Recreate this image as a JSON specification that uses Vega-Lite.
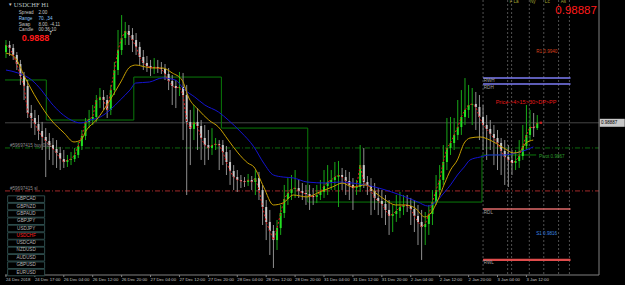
{
"$schema": "https://vega.github.io/schema/vega-lite/v6.json",
"width": 604, "height": 275,
"autosize": "none",
"padding": {"left": 0, "top": 0, "right": 21, "bottom": 10},
"background": "#000000",
"config": {"view": {"stroke": null}, "font": "Liberation Sans"},
"datasets": {
"bars": [
{"i":0,"o":0.99371,"h":0.99453,"l":0.99330,"c":0.99419},
{"i":1,"o":0.99419,"h":0.99447,"l":0.99344,"c":0.99399},
{"i":2,"o":0.99399,"h":0.99426,"l":0.99317,"c":0.99351},
{"i":3,"o":0.99351,"h":0.99371,"l":0.99248,"c":0.99289},
{"i":4,"o":0.99289,"h":0.99317,"l":0.99146,"c":0.99207},
{"i":5,"o":0.99207,"h":0.99235,"l":0.99043,"c":0.99139},
{"i":6,"o":0.99139,"h":0.99180,"l":0.98920,"c":0.98954},
{"i":7,"o":0.98954,"h":0.99009,"l":0.98851,"c":0.98920},
{"i":8,"o":0.98920,"h":0.98975,"l":0.98804,"c":0.98879},
{"i":9,"o":0.98879,"h":0.98940,"l":0.98769,"c":0.98831},
{"i":10,"o":0.98831,"h":0.98893,"l":0.98701,"c":0.98790},
{"i":11,"o":0.98790,"h":0.98851,"l":0.98516,"c":0.98763},
{"i":12,"o":0.98763,"h":0.98817,"l":0.98633,"c":0.98735},
{"i":13,"o":0.98735,"h":0.98783,"l":0.98598,"c":0.98708},
{"i":14,"o":0.98708,"h":0.98769,"l":0.98578,"c":0.98680},
{"i":15,"o":0.98680,"h":0.98722,"l":0.98564,"c":0.98639},
{"i":16,"o":0.98639,"h":0.98701,"l":0.98578,"c":0.98619},
{"i":17,"o":0.98619,"h":0.98667,"l":0.98585,"c":0.98633},
{"i":18,"o":0.98633,"h":0.98687,"l":0.98598,"c":0.98639},
{"i":19,"o":0.98639,"h":0.98715,"l":0.98619,"c":0.98667},
{"i":20,"o":0.98667,"h":0.98756,"l":0.98646,"c":0.98728},
{"i":21,"o":0.98728,"h":0.98838,"l":0.98701,"c":0.98797},
{"i":22,"o":0.98797,"h":0.98920,"l":0.98769,"c":0.98893},
{"i":23,"o":0.98893,"h":0.98975,"l":0.98851,"c":0.98913},
{"i":24,"o":0.98913,"h":0.99009,"l":0.98872,"c":0.98927},
{"i":25,"o":0.98927,"h":0.99077,"l":0.98893,"c":0.99043},
{"i":26,"o":0.99043,"h":0.99125,"l":0.98988,"c":0.99064},
{"i":27,"o":0.99064,"h":0.99111,"l":0.98975,"c":0.99043},
{"i":28,"o":0.99043,"h":0.99077,"l":0.98920,"c":0.98975},
{"i":29,"o":0.98975,"h":0.99146,"l":0.98940,"c":0.99111},
{"i":30,"o":0.99111,"h":0.99303,"l":0.99077,"c":0.99248},
{"i":31,"o":0.99248,"h":0.99522,"l":0.99214,"c":0.99385},
{"i":32,"o":0.99385,"h":0.99624,"l":0.99351,"c":0.99467},
{"i":33,"o":0.99467,"h":0.99577,"l":0.99419,"c":0.99515},
{"i":34,"o":0.99515,"h":0.99556,"l":0.99419,"c":0.99488},
{"i":35,"o":0.99488,"h":0.99535,"l":0.99371,"c":0.99453},
{"i":36,"o":0.99453,"h":0.99501,"l":0.99351,"c":0.99406},
{"i":37,"o":0.99406,"h":0.99440,"l":0.99282,"c":0.99337},
{"i":38,"o":0.99337,"h":0.99385,"l":0.99248,"c":0.99296},
{"i":39,"o":0.99296,"h":0.99344,"l":0.99235,"c":0.99276},
{"i":40,"o":0.99276,"h":0.99317,"l":0.99207,"c":0.99262},
{"i":41,"o":0.99262,"h":0.99330,"l":0.99221,"c":0.99269},
{"i":42,"o":0.99269,"h":0.99317,"l":0.99228,"c":0.99262},
{"i":43,"o":0.99262,"h":0.99303,"l":0.99221,"c":0.99255},
{"i":44,"o":0.99255,"h":0.99289,"l":0.99180,"c":0.99221},
{"i":45,"o":0.99221,"h":0.99262,"l":0.99111,"c":0.99173},
{"i":46,"o":0.99173,"h":0.99214,"l":0.99009,"c":0.99139},
{"i":47,"o":0.99139,"h":0.99180,"l":0.98988,"c":0.99125},
{"i":48,"o":0.99125,"h":0.99235,"l":0.99070,"c":0.99132},
{"i":49,"o":0.99132,"h":0.99228,"l":0.98769,"c":0.99077},
{"i":50,"o":0.99077,"h":0.99146,"l":0.98393,"c":0.98893},
{"i":51,"o":0.98893,"h":0.98975,"l":0.98598,"c":0.98845},
{"i":52,"o":0.98845,"h":0.99009,"l":0.98769,"c":0.98893},
{"i":53,"o":0.98893,"h":0.98988,"l":0.98701,"c":0.98865},
{"i":54,"o":0.98865,"h":0.98906,"l":0.98633,"c":0.98783},
{"i":55,"o":0.98783,"h":0.98872,"l":0.98598,"c":0.98735},
{"i":56,"o":0.98735,"h":0.98838,"l":0.98633,"c":0.98715},
{"i":57,"o":0.98715,"h":0.98851,"l":0.98667,"c":0.98735},
{"i":58,"o":0.98735,"h":0.98783,"l":0.98701,"c":0.98742},
{"i":59,"o":0.98742,"h":0.98769,"l":0.98564,"c":0.98735},
{"i":60,"o":0.98735,"h":0.98769,"l":0.98598,"c":0.98687},
{"i":61,"o":0.98687,"h":0.98728,"l":0.98530,"c":0.98619},
{"i":62,"o":0.98619,"h":0.98701,"l":0.98462,"c":0.98557},
{"i":63,"o":0.98557,"h":0.98598,"l":0.98427,"c":0.98516},
{"i":64,"o":0.98516,"h":0.98564,"l":0.98414,"c":0.98496},
{"i":65,"o":0.98496,"h":0.98530,"l":0.98441,"c":0.98489},
{"i":66,"o":0.98489,"h":0.98516,"l":0.98448,"c":0.98482},
{"i":67,"o":0.98482,"h":0.98537,"l":0.98455,"c":0.98496},
{"i":68,"o":0.98496,"h":0.98523,"l":0.98427,"c":0.98482},
{"i":69,"o":0.98482,"h":0.98564,"l":0.98393,"c":0.98509},
{"i":70,"o":0.98509,"h":0.98551,"l":0.98359,"c":0.98427},
{"i":71,"o":0.98427,"h":0.98462,"l":0.98188,"c":0.98311},
{"i":72,"o":0.98311,"h":0.98359,"l":0.98085,"c":0.98209},
{"i":73,"o":0.98209,"h":0.98291,"l":0.97983,"c":0.98147},
{"i":74,"o":0.98147,"h":0.98188,"l":0.97894,"c":0.98085},
{"i":75,"o":0.98085,"h":0.98222,"l":0.98017,"c":0.98167},
{"i":76,"o":0.98167,"h":0.98325,"l":0.98120,"c":0.98270},
{"i":77,"o":0.98270,"h":0.98462,"l":0.98236,"c":0.98366},
{"i":78,"o":0.98366,"h":0.98509,"l":0.98325,"c":0.98407},
{"i":79,"o":0.98407,"h":0.98530,"l":0.98359,"c":0.98434},
{"i":80,"o":0.98434,"h":0.98564,"l":0.98373,"c":0.98441},
{"i":81,"o":0.98441,"h":0.98496,"l":0.98373,"c":0.98421},
{"i":82,"o":0.98421,"h":0.98475,"l":0.98359,"c":0.98407},
{"i":83,"o":0.98407,"h":0.98462,"l":0.98325,"c":0.98400},
{"i":84,"o":0.98400,"h":0.98462,"l":0.98291,"c":0.98386},
{"i":85,"o":0.98386,"h":0.98441,"l":0.98325,"c":0.98380},
{"i":86,"o":0.98380,"h":0.98462,"l":0.98338,"c":0.98393},
{"i":87,"o":0.98393,"h":0.98496,"l":0.98359,"c":0.98414},
{"i":88,"o":0.98414,"h":0.98564,"l":0.98373,"c":0.98455},
{"i":89,"o":0.98455,"h":0.98598,"l":0.98393,"c":0.98482},
{"i":90,"o":0.98482,"h":0.98564,"l":0.98427,"c":0.98496},
{"i":91,"o":0.98496,"h":0.98619,"l":0.98427,"c":0.98516},
{"i":92,"o":0.98516,"h":0.98626,"l":0.98311,"c":0.98530},
{"i":93,"o":0.98530,"h":0.98578,"l":0.98427,"c":0.98516},
{"i":94,"o":0.98516,"h":0.98564,"l":0.98393,"c":0.98489},
{"i":95,"o":0.98489,"h":0.98551,"l":0.98359,"c":0.98462},
{"i":96,"o":0.98462,"h":0.98509,"l":0.98291,"c":0.98441},
{"i":97,"o":0.98441,"h":0.98496,"l":0.98393,"c":0.98448},
{"i":98,"o":0.98448,"h":0.98735,"l":0.98414,"c":0.98598},
{"i":99,"o":0.98598,"h":0.98715,"l":0.98441,"c":0.98482},
{"i":100,"o":0.98482,"h":0.98523,"l":0.98393,"c":0.98455},
{"i":101,"o":0.98455,"h":0.98509,"l":0.98256,"c":0.98421},
{"i":102,"o":0.98421,"h":0.98475,"l":0.98291,"c":0.98373},
{"i":103,"o":0.98373,"h":0.98441,"l":0.98256,"c":0.98352},
{"i":104,"o":0.98352,"h":0.98427,"l":0.98236,"c":0.98332},
{"i":105,"o":0.98332,"h":0.98393,"l":0.98188,"c":0.98291},
{"i":106,"o":0.98291,"h":0.98359,"l":0.98120,"c":0.98250},
{"i":107,"o":0.98250,"h":0.98325,"l":0.98140,"c":0.98263},
{"i":108,"o":0.98263,"h":0.98393,"l":0.98209,"c":0.98284},
{"i":109,"o":0.98284,"h":0.98414,"l":0.98236,"c":0.98311},
{"i":110,"o":0.98311,"h":0.98393,"l":0.98256,"c":0.98325},
{"i":111,"o":0.98325,"h":0.98393,"l":0.98277,"c":0.98318},
{"i":112,"o":0.98318,"h":0.98373,"l":0.98188,"c":0.98297},
{"i":113,"o":0.98297,"h":0.98359,"l":0.98140,"c":0.98250},
{"i":114,"o":0.98250,"h":0.98325,"l":0.98051,"c":0.98209},
{"i":115,"o":0.98209,"h":0.98291,"l":0.97949,"c":0.98174},
{"i":116,"o":0.98174,"h":0.98277,"l":0.98051,"c":0.98195},
{"i":117,"o":0.98195,"h":0.98325,"l":0.98120,"c":0.98263},
{"i":118,"o":0.98263,"h":0.98427,"l":0.98188,"c":0.98345},
{"i":119,"o":0.98345,"h":0.98530,"l":0.98325,"c":0.98427},
{"i":120,"o":0.98427,"h":0.98598,"l":0.98393,"c":0.98496},
{"i":121,"o":0.98496,"h":0.98735,"l":0.98462,"c":0.98619},
{"i":122,"o":0.98619,"h":0.98920,"l":0.98564,"c":0.98715},
{"i":123,"o":0.98715,"h":0.98927,"l":0.98667,"c":0.98749},
{"i":124,"o":0.98749,"h":0.98920,"l":0.98701,"c":0.98804},
{"i":125,"o":0.98804,"h":0.99043,"l":0.98769,"c":0.98858},
{"i":126,"o":0.98858,"h":0.99111,"l":0.98804,"c":0.98927},
{"i":127,"o":0.98927,"h":0.99193,"l":0.98872,"c":0.98975},
{"i":128,"o":0.98975,"h":0.99146,"l":0.98920,"c":0.99009},
{"i":129,"o":0.99009,"h":0.99125,"l":0.98872,"c":0.99016},
{"i":130,"o":0.99016,"h":0.99098,"l":0.98838,"c":0.98995},
{"i":131,"o":0.98995,"h":0.99077,"l":0.98769,"c":0.98927},
{"i":132,"o":0.98927,"h":0.99009,"l":0.98701,"c":0.98872},
{"i":133,"o":0.98872,"h":0.98940,"l":0.98633,"c":0.98845},
{"i":134,"o":0.98845,"h":0.98906,"l":0.98701,"c":0.98810},
{"i":135,"o":0.98810,"h":0.98872,"l":0.98598,"c":0.98783},
{"i":136,"o":0.98783,"h":0.98838,"l":0.98564,"c":0.98749},
{"i":137,"o":0.98749,"h":0.98783,"l":0.98530,"c":0.98694},
{"i":138,"o":0.98694,"h":0.98769,"l":0.98462,"c":0.98653},
{"i":139,"o":0.98653,"h":0.98735,"l":0.98448,"c":0.98633},
{"i":140,"o":0.98633,"h":0.98701,"l":0.98530,"c":0.98612},
{"i":141,"o":0.98612,"h":0.98701,"l":0.98564,"c":0.98626},
{"i":142,"o":0.98626,"h":0.98769,"l":0.98578,"c":0.98660},
{"i":143,"o":0.98660,"h":0.98872,"l":0.98633,"c":0.98728},
{"i":144,"o":0.98728,"h":0.99009,"l":0.98701,"c":0.98804},
{"i":145,"o":0.98804,"h":0.98975,"l":0.98769,"c":0.98858},
{"i":146,"o":0.98858,"h":0.98954,"l":0.98790,"c":0.98851},
{"i":147,"o":0.98851,"h":0.98940,"l":0.98838,"c":0.98887}
],
"fast": [
{"i":0,"p":0.99364},{"i":2.4,"p":0.99337},{"i":5.2,"p":0.99200},{"i":8.7,"p":0.99043},{"i":12.5,"p":0.98906},{"i":16.1,"p":0.98817},{"i":18.8,"p":0.98756},{"i":20.7,"p":0.98769},{"i":22.3,"p":0.98838},{"i":25.0,"p":0.98906},{"i":28.8,"p":0.99043},{"i":31.6,"p":0.99159},{"i":34.3,"p":0.99269},{"i":35.9,"p":0.99282},{"i":38.6,"p":0.99269},{"i":40.5,"p":0.99262},{"i":43.3,"p":0.99262},{"i":46.0,"p":0.99228},{"i":48.7,"p":0.99180},{"i":50.6,"p":0.99057},{"i":53.3,"p":0.98975},{"i":56.1,"p":0.98906},{"i":58.8,"p":0.98858},{"i":61.5,"p":0.98769},{"i":64.2,"p":0.98681},{"i":66.9,"p":0.98612},{"i":68.6,"p":0.98585},{"i":71.3,"p":0.98448},{"i":74.0,"p":0.98325},{"i":76.7,"p":0.98339},{"i":79.5,"p":0.98393},{"i":83.3,"p":0.98380},{"i":86.8,"p":0.98414},{"i":90.3,"p":0.98448},{"i":93.1,"p":0.98475},{"i":95.8,"p":0.98448},{"i":99.6,"p":0.98462},{"i":102.3,"p":0.98407},{"i":105.0,"p":0.98359},{"i":107.8,"p":0.98325},{"i":110.5,"p":0.98325},{"i":113.2,"p":0.98304},{"i":115.9,"p":0.98243},{"i":117.6,"p":0.98270},{"i":119.5,"p":0.98359},{"i":121.4,"p":0.98475},{"i":123.0,"p":0.98564},{"i":124.9,"p":0.98633},{"i":126.8,"p":0.98749},{"i":128.4,"p":0.98783},{"i":131.2,"p":0.98790},{"i":133.9,"p":0.98769},{"i":137.7,"p":0.98715},{"i":140.4,"p":0.98681},{"i":142.0,"p":0.98687},{"i":143.9,"p":0.98749},{"i":145.9,"p":0.98769}
],
"slow": [
{"i":0,"p":0.99248},{"i":3.3,"p":0.99228},{"i":7.1,"p":0.99180},{"i":9.8,"p":0.99111},{"i":12.5,"p":0.99023},{"i":15.2,"p":0.98954},{"i":18.0,"p":0.98906},{"i":20.7,"p":0.98886},{"i":23.4,"p":0.98906},{"i":26.1,"p":0.98927},{"i":28.8,"p":0.98975},{"i":31.6,"p":0.99043},{"i":34.3,"p":0.99111},{"i":35.9,"p":0.99159},{"i":39.7,"p":0.99166},{"i":43.3,"p":0.99194},{"i":46.8,"p":0.99180},{"i":49.5,"p":0.99111},{"i":52.2,"p":0.99064},{"i":55.0,"p":0.99009},{"i":58.8,"p":0.98961},{"i":61.5,"p":0.98906},{"i":65.0,"p":0.98824},{"i":68.6,"p":0.98722},{"i":71.3,"p":0.98612},{"i":74.0,"p":0.98530},{"i":76.7,"p":0.98516},{"i":79.5,"p":0.98510},{"i":83.3,"p":0.98482},{"i":88.7,"p":0.98475},{"i":92.2,"p":0.98482},{"i":95.8,"p":0.98475},{"i":99.6,"p":0.98462},{"i":103.1,"p":0.98441},{"i":106.7,"p":0.98414},{"i":110.5,"p":0.98380},{"i":114.0,"p":0.98345},{"i":116.7,"p":0.98318},{"i":118.6,"p":0.98339},{"i":121.4,"p":0.98414},{"i":123.0,"p":0.98462},{"i":124.9,"p":0.98530},{"i":126.8,"p":0.98585},{"i":128.4,"p":0.98633},{"i":131.2,"p":0.98653},{"i":133.9,"p":0.98667},{"i":137.7,"p":0.98667},{"i":141.2,"p":0.98681},{"i":143.9,"p":0.98701},{"i":145.9,"p":0.98722}
],
"pivots": [
{"i":-0.27,"p":0.99180},{"i":11.16,"p":0.98906},{"i":35.37,"p":0.99200},{"i":59.6,"p":0.98851},{"i":83.5,"p":0.98345},{"i":131.7,"p":0.98667},{"i":146.7,"p":0.98667}
],
"levels": [
{"name":"cur","p":0.98887,"i0":-0.27,"i1":164.08},
{"name":"entry","p":0.98715,"i0":-0.27,"i1":164.08},
{"name":"sl","p":0.98421,"i0":-0.27,"i1":164.08},
{"name":"RWH","p":0.99193,"i0":132.0,"i1":156.2},
{"name":"RDH","p":0.99152,"i0":132.0,"i1":156.2},
{"name":"RDL","p":0.98297,"i0":132.0,"i1":156.2},
{"name":"RWL","p":0.97949,"i0":132.0,"i1":156.2}
],
"sessions": [{"i":132.0},{"i":138.8},{"i":139.9},{"i":144.8},{"i":148.8},{"i":152.9},{"i":155.9}],
"times": [
{"i":0,"t":"24 Dec 2018"},{"i":8,"t":"24 Dec 17:00"},{"i":16,"t":"26 Dec 04:00"},{"i":24,"t":"26 Dec 12:00"},{"i":32,"t":"26 Dec 20:00"},
{"i":40,"t":"27 Dec 04:00"},{"i":48,"t":"27 Dec 12:00"},{"i":56,"t":"27 Dec 20:00"},{"i":64,"t":"28 Dec 04:00"},{"i":72,"t":"28 Dec 12:00"},
{"i":80,"t":"28 Dec 20:00"},{"i":88,"t":"31 Dec 04:00"},{"i":96,"t":"31 Dec 12:00"},{"i":104,"t":"31 Dec 20:00"},{"i":112,"t":"2 Jan 04:00"},
{"i":120,"t":"2 Jan 12:00"},{"i":128,"t":"2 Jan 20:00"},{"i":136,"t":"3 Jan 04:00"},{"i":144,"t":"3 Jan 12:00"}
],
"labels": [
{"i":0.54,"p":0.99693,"t":"▼","role":"info"},
{"i":2.18,"p":0.99693,"t":"USDCHF  H1","role":"title"},
{"i":3.54,"p":0.99638,"t":"Spread","role":"info"},
{"i":8.98,"p":0.99638,"t":"2.00","role":"info"},
{"i":3.54,"p":0.99597,"t":"Range","role":"range"},
{"i":8.98,"p":0.99597,"t":"70.  ,34","role":"range"},
{"i":3.54,"p":0.99556,"t":"Swap","role":"info"},
{"i":8.98,"p":0.99556,"t":"8.00.  -4.11","role":"info"},
{"i":3.54,"p":0.99522,"t":"Candle","role":"info"},
{"i":8.98,"p":0.99522,"t":"00:36:10","role":"info"},
{"i":4.35,"p":0.99467,"t":"0.9888","role":"big"},
{"i":11.97,"p":0.99494,"t":"7","role":"sup"},
{"i":163.5,"p":0.99652,"t":"0.98887","role":"top"},
{"i":1.09,"p":0.98728,"t":"#59697415 buy 0.01","role":"order"},
{"i":1.09,"p":0.98434,"t":"#59697415 sl","role":"order"},
{"i":146.7,"p":0.99371,"t":"R1 0.9940","role":"r1"},
{"i":132.2,"p":0.99173,"t":"RWH","role":"lvl"},
{"i":132.2,"p":0.99125,"t":"RDH","role":"lvl"},
{"i":132.2,"p":0.98270,"t":"RDL","role":"lvl"},
{"i":132.2,"p":0.97928,"t":"RWL","role":"lvl"},
{"i":135.5,"p":0.99029,"t":"Price->4>15>30>DP>PP","role":"ppath"},
{"i":147.5,"p":0.98653,"t":"Pivot 0.9867","role":"pivot"},
{"i":146.7,"p":0.98126,"t":"S1 0.9816","role":"s1"},
{"i":139.3,"p":0.99710,"t":"F","role":"sess"},
{"i":140.4,"p":0.99710,"t":"La","role":"sess"},
{"i":145.0,"p":0.99710,"t":"Ny","role":"sess"},
{"i":149.1,"p":0.99710,"t":"Lc","role":"sess"},
{"i":153.5,"p":0.99710,"t":"As","role":"sess"}
],
"now": [{"i":148.0,"p":0.98887,"t":"0.98887"}],
"syms": [{"s":"GBPCAD","p":0.98365},{"s":"GBPNZD","p":0.98314},{"s":"GBPAUD","p":0.98264},{"s":"GBPJPY","p":0.98214},{"s":"USDJPY","p":0.98164},{"s":"USDCHF","p":0.98113},{"s":"USDCAD","p":0.98064},{"s":"NZDUSD","p":0.98014},{"s":"AUDUSD","p":0.97964},{"s":"GBPUSD","p":0.97913},{"s":"EURUSD","p":0.97863}]
},
"layer": [
{"data": {"name": "sessions"}, "mark": {"type": "rule", "color": "#505050", "strokeDash": [2, 2], "strokeWidth": 1},
 "encoding": {"x": {"field": "i", "type": "quantitative", "scale": {"domain": [-0.27, 164.08], "nice": false, "zero": false}, "axis": null}}},
{"data": {"name": "levels"}, "transform": [{"filter": "datum.name == 'cur'"}], "mark": {"type": "rule", "color": "#454545", "strokeWidth": 1},
 "encoding": {"x": {"field": "i0", "type": "quantitative", "axis": null}, "x2": {"field": "i1"},
   "y": {"field": "p", "type": "quantitative", "scale": {"domain": [0.97846, 0.99727], "nice": false, "zero": false},
     "axis": {"orient": "right", "title": null, "values": [0.99645,0.9954,0.99435,0.9933,0.99225,0.9912,0.99015,0.98805,0.987,0.98595,0.9849,0.98385,0.9828,0.98175,0.9807,0.97965,0.9786],
       "format": ".5f", "labelColor": "#C0C0C0", "labelFontSize": 4.5, "labelFont": "Liberation Sans", "tickSize": 2, "tickColor": "#808080",
       "domainColor": "#808080", "labelPadding": 1, "labelOverlap": false, "labelFlush": false, "grid": false}}}},
{"data": {"name": "levels"}, "transform": [{"filter": "datum.name == 'entry'"}], "mark": {"type": "rule", "color": "#0C6A0C", "strokeWidth": 1, "strokeDash": [5, 2, 1, 2]},
 "encoding": {"x": {"field": "i0", "type": "quantitative", "axis": null}, "x2": {"field": "i1"}, "y": {"field": "p", "type": "quantitative", "axis": null}}},
{"data": {"name": "levels"}, "transform": [{"filter": "datum.name == 'sl'"}], "mark": {"type": "rule", "color": "#A02828", "strokeWidth": 1, "strokeDash": [5, 2, 1, 2]},
 "encoding": {"x": {"field": "i0", "type": "quantitative", "axis": null}, "x2": {"field": "i1"}, "y": {"field": "p", "type": "quantitative", "axis": null}}},
{"data": {"name": "levels"}, "transform": [{"filter": "datum.name == 'RWH' || datum.name == 'RDH'"}], "mark": {"type": "rule", "color": "#7C7CF4", "strokeWidth": 1.5},
 "encoding": {"x": {"field": "i0", "type": "quantitative", "axis": null}, "x2": {"field": "i1"}, "y": {"field": "p", "type": "quantitative", "axis": null}}},
{"data": {"name": "levels"}, "transform": [{"filter": "datum.name == 'RDL'"}], "mark": {"type": "rule", "color": "#E06A6A", "strokeWidth": 1.5},
 "encoding": {"x": {"field": "i0", "type": "quantitative", "axis": null}, "x2": {"field": "i1"}, "y": {"field": "p", "type": "quantitative", "axis": null}}},
{"data": {"name": "levels"}, "transform": [{"filter": "datum.name == 'RWL'"}], "mark": {"type": "rule", "color": "#E04C4C", "strokeWidth": 2.2},
 "encoding": {"x": {"field": "i0", "type": "quantitative", "axis": null}, "x2": {"field": "i1"}, "y": {"field": "p", "type": "quantitative", "axis": null}}},
{"data": {"name": "pivots"}, "mark": {"type": "line", "color": "#0A7A0A", "strokeWidth": 1, "interpolate": "step-after"},
 "encoding": {"x": {"field": "i", "type": "quantitative", "axis": null}, "y": {"field": "p", "type": "quantitative", "axis": null}}},
{"data": {"name": "bars"}, "mark": {"type": "rule", "strokeWidth": 1},
 "encoding": {"x": {"field": "i", "type": "quantitative", "axis": null},
   "y": {"field": "l", "type": "quantitative", "axis": null}, "y2": {"field": "h"},
   "color": {"condition": {"test": "datum.c >= datum.o", "value": "#18A818"}, "value": "#8E8E8E"}}},
{"data": {"name": "bars"}, "mark": {"type": "bar", "size": 2},
 "encoding": {"x": {"field": "i", "type": "quantitative", "axis": null}, "y": {"field": "o", "type": "quantitative", "axis": null}, "y2": {"field": "c"},
   "color": {"condition": {"test": "datum.c >= datum.o", "value": "#22E022"}, "value": "#C8C8C8"}}},
{"data": {"name": "slow"}, "mark": {"type": "line", "color": "#1414D2", "strokeWidth": 1, "interpolate": "monotone"},
 "encoding": {"x": {"field": "i", "type": "quantitative", "axis": null}, "y": {"field": "p", "type": "quantitative", "axis": null}}},
{"data": {"name": "fast"}, "mark": {"type": "line", "color": "#C8A000", "strokeWidth": 1, "interpolate": "monotone"},
 "encoding": {"x": {"field": "i", "type": "quantitative", "axis": null}, "y": {"field": "p", "type": "quantitative", "axis": null}}},
{"data": {"name": "bars"}, "mark": {"type": "line", "color": "#E01818", "strokeWidth": 1, "strokeDash": [2, 2]},
 "encoding": {"x": {"field": "i", "type": "quantitative", "axis": null}, "y": {"field": "c", "type": "quantitative", "axis": null}}},
{"data": {"name": "now"}, "mark": {"type": "point", "shape": "square", "filled": true, "size": 6, "color": "#FF2020"},
 "encoding": {"x": {"field": "i", "type": "quantitative", "axis": null}, "y": {"field": "p", "type": "quantitative", "axis": null}}},
{"data": {"name": "now"}, "mark": {"type": "rule", "color": "#808080", "strokeWidth": 1},
 "encoding": {"x": {"datum": 164.08, "axis": null}}},
{"data": {"name": "now"}, "mark": {"type": "rule", "color": "#808080", "strokeWidth": 1},
 "encoding": {"x": {"datum": -0.27, "axis": null}, "x2": {"datum": 164.08}, "y": {"datum": 0.97846, "axis": null}}},
{"data": {"name": "times"}, "mark": {"type": "rule", "color": "#808080", "strokeWidth": 1},
 "encoding": {"x": {"field": "i", "type": "quantitative", "axis": null}, "y": {"datum": 0.97846, "axis": null}, "y2": {"datum": 0.97832}}},
{"data": {"name": "times"}, "mark": {"type": "text", "align": "left", "baseline": "middle", "fontSize": 4.3, "color": "#C0C0C0"},
 "encoding": {"x": {"field": "i", "type": "quantitative", "axis": null}, "y": {"datum": 0.97812, "axis": null}, "text": {"field": "t"}}},
{"data": {"name": "now"}, "mark": {"type": "rule", "color": "#C8C8C8", "strokeWidth": 8},
 "encoding": {"x": {"datum": 164.3, "axis": null}, "x2": {"datum": 171.2}, "y": {"field": "p", "type": "quantitative", "axis": null}}},
{"data": {"name": "now"}, "mark": {"type": "text", "align": "left", "baseline": "middle", "fontSize": 4.5, "color": "#000000"},
 "encoding": {"x": {"datum": 164.6, "axis": null}, "y": {"field": "p", "type": "quantitative", "axis": null}, "text": {"field": "t"}}},
{"data": {"name": "syms"}, "mark": {"type": "point", "shape": "M-1,-0.178L1,-0.178L1,0.178L-1,0.178Z", "size": 1369, "filled": true, "fill": "#000000", "fillOpacity": 1, "stroke": "#2E4C4C", "strokeWidth": 1, "opacity": 1},
 "encoding": {"x": {"datum": 5.58, "axis": null}, "y": {"field": "p", "type": "quantitative", "axis": null}}},
{"data": {"name": "syms"}, "mark": {"type": "text", "align": "center", "baseline": "middle", "fontSize": 4.6},
 "encoding": {"x": {"datum": 5.58, "axis": null}, "y": {"field": "p", "type": "quantitative", "axis": null},
   "text": {"field": "s"},
   "color": {"condition": {"test": "datum.s == 'USDCHF'", "value": "#FF2020"}, "value": "#B4B4B4"}}},
{"data": {"name": "labels"}, "transform": [{"filter": "indexof(['info','range','sup','order','lvl','r1','pivot','s1','sess'], datum.role) >= 0"}],
 "mark": {"type": "text", "align": "left", "baseline": "middle", "fontSize": 4.6},
 "encoding": {"x": {"field": "i", "type": "quantitative", "axis": null}, "y": {"field": "p", "type": "quantitative", "axis": null}, "text": {"field": "t"},
   "color": {"field": "role", "type": "nominal", "legend": null,
     "scale": {"domain": ["info","title","range","big","sup","top","order","lvl","r1","ppath","pivot","s1","sess"],
       "range": ["#C4C4C4","#B8C4C4","#8CC8FF","#FF1A1A","#FFFFFF","#FF1A1A","#8C8C8C","#A0A0A0","#D8401C","#E81A1A","#2A9A2A","#3A86E0","#A0A030"]}}}},
{"data": {"name": "labels"}, "transform": [{"filter": "datum.role == 'title'"}],
 "mark": {"type": "text", "align": "left", "baseline": "middle", "fontSize": 6.5, "font": "Liberation Serif"},
 "encoding": {"x": {"field": "i", "type": "quantitative", "axis": null}, "y": {"field": "p", "type": "quantitative", "axis": null}, "text": {"field": "t"},
   "color": {"field": "role", "type": "nominal", "legend": null}}},
{"data": {"name": "labels"}, "transform": [{"filter": "datum.role == 'big'"}],
 "mark": {"type": "text", "align": "left", "baseline": "middle", "fontSize": 9, "fontWeight": "bold"},
 "encoding": {"x": {"field": "i", "type": "quantitative", "axis": null}, "y": {"field": "p", "type": "quantitative", "axis": null}, "text": {"field": "t"},
   "color": {"field": "role", "type": "nominal", "legend": null}}},
{"data": {"name": "labels"}, "transform": [{"filter": "datum.role == 'top'"}],
 "mark": {"type": "text", "align": "right", "baseline": "middle", "fontSize": 11.5},
 "encoding": {"x": {"field": "i", "type": "quantitative", "axis": null}, "y": {"field": "p", "type": "quantitative", "axis": null}, "text": {"field": "t"},
   "color": {"field": "role", "type": "nominal", "legend": null}}},
{"data": {"name": "labels"}, "transform": [{"filter": "datum.role == 'ppath'"}],
 "mark": {"type": "text", "align": "left", "baseline": "middle", "fontSize": 5.5},
 "encoding": {"x": {"field": "i", "type": "quantitative", "axis": null}, "y": {"field": "p", "type": "quantitative", "axis": null}, "text": {"field": "t"},
   "color": {"field": "role", "type": "nominal", "legend": null}}}
]
}
